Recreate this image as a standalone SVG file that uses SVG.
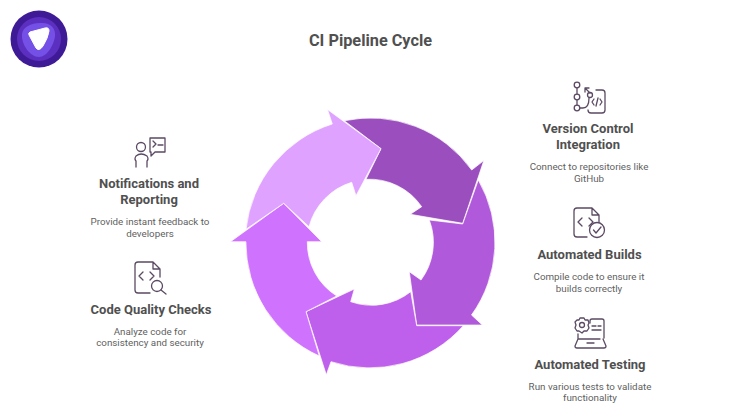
<svg xmlns="http://www.w3.org/2000/svg" width="740" height="420" viewBox="0 0 740 420">
<style>
text{font-family:"Roboto","Liberation Sans",sans-serif;text-anchor:middle}
.title{font-size:16.3px;font-weight:700;fill:#505050}
.h{font-size:13px;font-weight:700;fill:#505050}
.d{font-size:9.8px;fill:#5f5f5f}
.seg{stroke:#fff;stroke-width:.7;stroke-linejoin:miter;stroke-miterlimit:10}
.ic{fill:none;stroke:#5b4a63;stroke-width:1.3;stroke-linecap:round;stroke-linejoin:round}
</style>
<rect width="740" height="420" fill="#fff"/>
<g id="logo">
<circle cx="39" cy="39" r="28.500" fill="#3f1a96"/>
<circle cx="39" cy="39" r="22" fill="#5b30c0"/>
<path d="M22 34C23 27 31 23 40 23C50 22 56 28 55 36C54 45 47 57 39 57C30 57 21 44 22 34Z" fill="#7550e6"/>
<path d="M29 35Q28 33 30 32L45 28Q49 27 49 31Q48 38 43 46Q39 52 36 48Z" fill="#fff" stroke="#fff" stroke-width="1"/>
</g>
<text class="title" x="370.500" y="46">CI Pipeline Cycle</text>
<g id="connectors">
<path class="seg" fill="#9b4fbf" d="M344.300 120.700A124.600 124.600 0 0 1 471.700 170L483.800 160.600L462.700 223.300L410.300 214.300L421.700 206.700A63.300 63.300 0 0 0 366 179.300L381 148.700Z"/>
<path class="seg" fill="#b05adb" d="M478.300 180A124.600 124.600 0 0 1 471.500 315L482.300 325L416.700 325L409.300 271.700L421 280A63.300 63.300 0 0 0 429.300 220L462.700 224Z"/>
<path class="seg" fill="#bf60ec" d="M463.300 325.700A124.600 124.600 0 0 1 331 361.700L326.300 374.800L306 311.700L354.300 289L350.700 301.700A63.300 63.300 0 0 0 410.700 291.700L416.700 325.700Z"/>
<path class="seg" fill="#cf73ff" d="M319.300 356A124.600 124.600 0 0 1 245.900 241.700L230.500 241.700L283.700 203.300L321.700 241.700L307.300 241.700A63.300 63.300 0 0 0 336.700 296L306 311.700Z"/>
<path class="seg" fill="#dfa3ff" d="M246 229.300A124.600 124.600 0 0 1 332.300 124L327.500 109.500L381 148.700L356 195.700L351.700 182.300A63.300 63.300 0 0 0 309 226.700L283.700 203.300Z"/>
</g>
<g id="node-vcs">
<g class="ic"><circle cx="577" cy="85" r="2.800"/><circle cx="577" cy="97" r="2.800"/><circle cx="577" cy="108" r="2.800"/><path d="M577 88V94M577 100V105M580 108H583Q589 108 589 98M590 93L585 88M585 88H589M585 88V92"/><circle cx="590" cy="95" r="2.500"/><path d="M596 90H602Q605 90 605 93V110Q605 113 602 113H591Q588 113 588 110M594 105L592 102L594 99M600 99L602 102L600 105M598 98L596 106"/></g>
<text class="h" x="588" y="133">Version Control</text><text class="h" x="588" y="149">Integration</text>
<text class="d" x="589" y="170">Connect to repositories like</text><text class="d" x="589" y="182">GitHub</text>
</g>
<g id="node-builds">
<g class="ic"><path d="M587 237H577Q574 237 574 234V211Q574 208 577 208H592L599 215V222M592 208V215H599M582 218L578 222L582 226M589 218L593 222L589 226"/><circle cx="597" cy="230" r="7.500"/><path d="M593.500 230L596 233L601 227"/></g>
<text class="h" x="589.500" y="259">Automated Builds</text>
<text class="d" x="589" y="280">Compile code to ensure it</text><text class="d" x="589" y="292">builds correctly</text>
</g>
<g id="node-testing">
<g class="ic"><circle cx="582" cy="325" r="2.500"/><path d="M580 318L584 318L585 320L588 320L589 323L588 325L589 328L587 331L584 331L582 333L579 331L577 331L575 328L576 325L575 322L577 320L579 320Z"/><path d="M590 323V321Q590 319 592 319H602Q604 319 604 321V338M592 326H596M598 326H601M592 330H601M578 334V339H600M578 339L575 346Q575 348 577 348H604Q606 348 606 346L603 339M587 343H594"/></g>
<text class="h" x="590" y="369">Automated Testing</text>
<text class="d" x="590" y="390">Run various tests to validate</text><text class="d" x="590" y="401">functionality</text>
</g>
<g id="node-notify">
<g class="ic"><circle cx="141" cy="147" r="4.500"/><path d="M136 167V161Q134 159 136 156Q141 152 147 156Q149 159 147 161V167M150 138H165V152H155L151 156V152H150ZM153 141L156 144L153 147M158 145H163"/></g>
<text class="h" x="149" y="188">Notifications and</text><text class="h" x="149" y="204">Reporting</text>
<text class="d" x="150" y="225">Provide instant feedback to</text><text class="d" x="150" y="237">developers</text>
</g>
<g id="node-quality">
<g class="ic"><path d="M150 293H138Q135 293 135 290V265Q135 262 138 262H153L160 269V277M153 262V269H160M143 272L139 276L143 280M150 272L154 276L150 280"/><circle cx="157" cy="286" r="5.500"/><path d="M161 290L166 294"/></g>
<text class="h" x="151" y="314">Code Quality Checks</text>
<text class="d" x="150" y="335">Analyze code for</text><text class="d" x="150" y="346">consistency and security</text>
</g>
</svg>
